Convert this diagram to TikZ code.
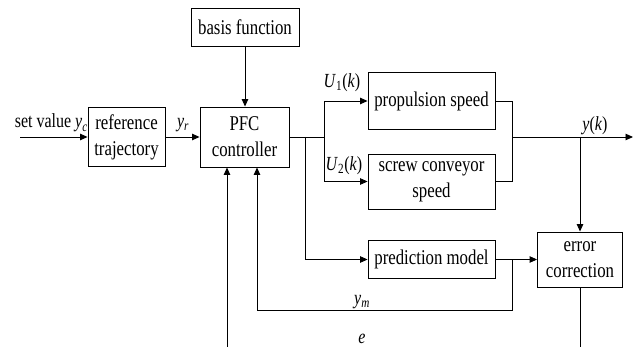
\documentclass[tikz,border=0pt]{standalone}
\usepackage{fontspec}
\setmainfont[FakeStretch=0.8]{Liberation Serif}
\usetikzlibrary{arrows.meta}
\newcommand\itv[2]{\textit{#1}\textsubscript{\textit{#2}}}
\begin{document}
\begin{tikzpicture}[x=1pt,y=-1pt,
  blk/.style={draw, line width=0.9pt, fill=white, align=center, inner sep=0pt, font=\fontsize{21}{26}\selectfont},
  lbl/.style={inner sep=0pt, font=\fontsize{20}{24}\selectfont},
  conn/.style={line width=0.9pt},
  arr/.style={conn, -{Triangle[length=7.5pt,width=6.5pt]}}]
\useasboundingbox (0,0) rectangle (636,347);

\node[lbl, anchor=base east] (sv) at (88,128) {set value \itv{y}{c}};

\node[blk, minimum width=77pt, minimum height=59pt] (ref) at (126.5,137) {reference\\trajectory};
\node[blk, minimum width=89pt, minimum height=60pt] (pfc) at (244.5,137) {PFC\\controller};
\node[blk, minimum width=108pt, minimum height=38pt] (basis) at (245,27) {basis function};
\node[blk, minimum width=127pt, minimum height=57pt] (prop) at (431.5,101) {propulsion speed};
\node[blk, minimum width=127pt, minimum height=55pt] (screw) at (431.5,181.5) {screw conveyor\\speed};
\node[blk, minimum width=127pt, minimum height=38pt] (pred) at (431.5,259.5) {prediction model};
\node[blk, minimum width=85pt, minimum height=55pt] (err) at (580,259.5) {error\\correction};

\coordinate (in) at (20,137);
\coordinate (j1) at (324,137);
\coordinate (j2) at (305,137);
\coordinate (r1) at (512,137);
\coordinate (out) at (633,137);
\coordinate (ym) at (257,310);
\coordinate (eb) at (227,347);
\coordinate (ebot) at (580,347);

\draw[arr] (in) -- (ref.west);
\draw[arr] (ref.east) -- (pfc.west);
\draw[arr] (basis.south) -- (basis.south |- pfc.north);
\draw[arr] (pfc.east) -- (j1) |- (prop.west);
\draw[arr] (j1) |- (screw.west);
\draw[conn] (prop.east) -| (r1);
\draw[conn] (screw.east) -| (r1);
\draw[arr] (r1) -- (out);
\draw[arr] (err.north |- r1) -- (err.north);
\draw[arr] (j2) |- (pred.west);
\draw[arr] (pred.east) -- (err.west);
\draw[arr] (r1 |- pred.east) |- (ym) -- (ym |- pfc.south);
\draw[conn] (err.south) -- (ebot);
\draw[arr] (eb) -- (eb |- pfc.south);

\node[lbl] (yr) at (183,125) {\itv{y}{r}};
\node[lbl] (u1) at (342,83) {\textit{U}\textsubscript{1}(\textit{k})};
\node[lbl] (u2) at (344,166) {\textit{U}\textsubscript{2}(\textit{k})};
\node[lbl] (yk) at (595,126) {\textit{y}(\textit{k})};
\node[lbl] (ymL) at (362,302) {\itv{y}{m}};
\node[lbl] (eL) at (362,339) {\textit{e}};
\end{tikzpicture}
\end{document}
